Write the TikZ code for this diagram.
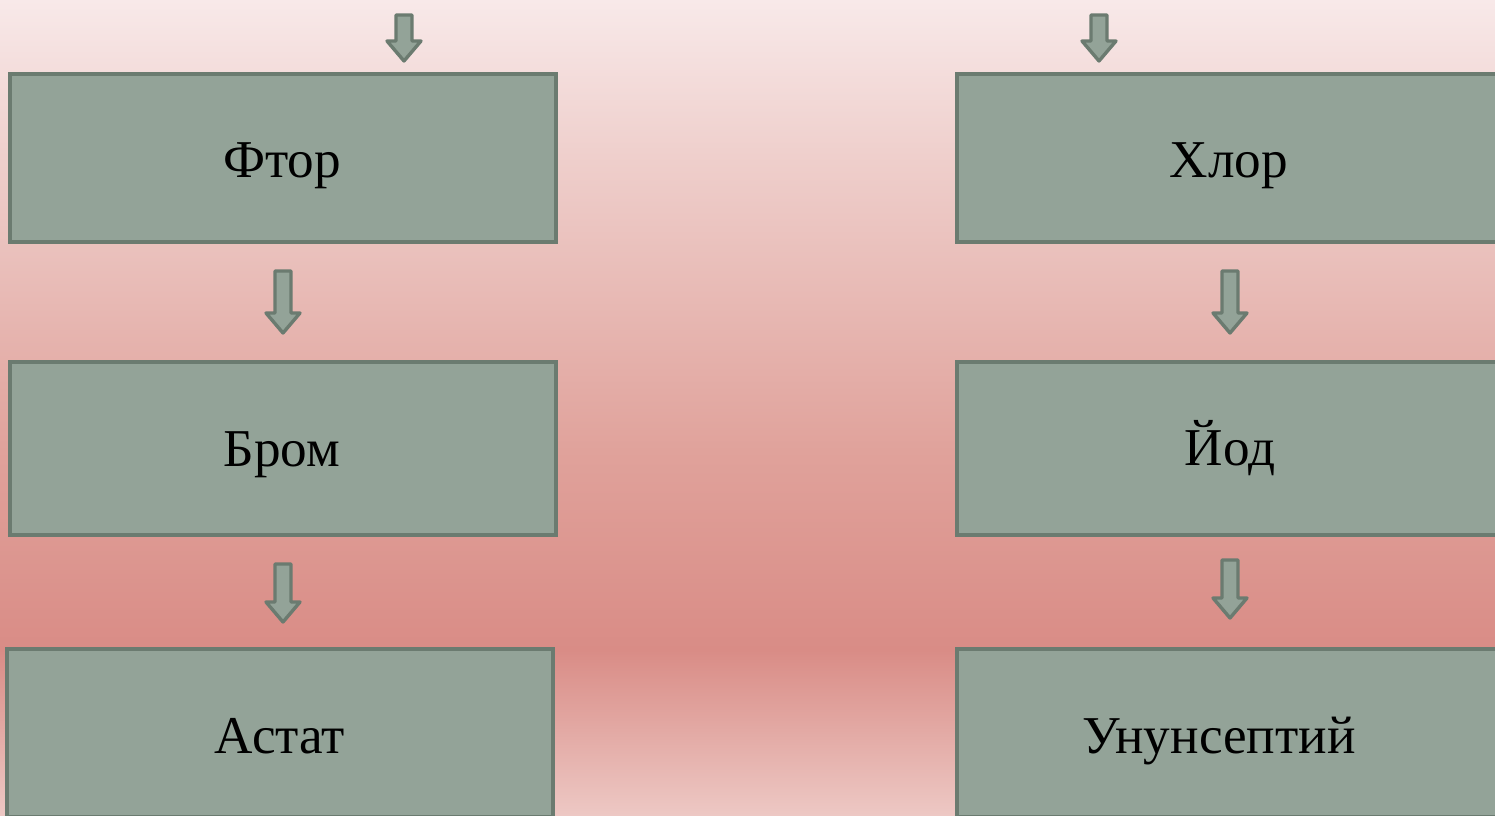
\documentclass[tikz,border=0pt]{standalone}
\usepackage{fontspec}
\setmainfont{Liberation Serif}
\definecolor{bgA}{HTML}{F8E9E9}
\definecolor{bgB}{HTML}{EFD0CD}
\definecolor{bgC}{HTML}{E0A29B}
\definecolor{bgD}{HTML}{D98C86}
\definecolor{bgE}{HTML}{EDC8C4}
\definecolor{boxfill}{HTML}{93A398}
\definecolor{boxline}{HTML}{6B7B70}
\newcommand\blockarrow[3]{%
  \draw[blockarr] (#1-8,#2) -- (#1+8,#2) -- (#1+8,#3-20) -- (#1+17,#3-20) -- (#1,#3) -- (#1-17,#3-20) -- (#1-8,#3-20) -- cycle;}
\tikzset{
  box/.style={draw=boxline, fill=boxfill, line width=2pt, rectangle, inner sep=0pt},
  txt/.style={font=\fontsize{26.6}{32}\selectfont, text=black, inner sep=0pt, anchor=base},
  blockarr/.style={draw=boxline, fill=boxfill, line width=1.7pt, line join=round},
}
\begin{document}
\begin{tikzpicture}[x=0.5pt, y=-0.5pt]
\useasboundingbox (0,0) rectangle (1495,815);
\clip (0,0) rectangle (1495,815);
% background
\shade[top color=bgA, bottom color=bgB] (0,0) rectangle (1495,150.5);
\shade[top color=bgB, bottom color=bgC] (0,150) rectangle (1495,450.5);
\shade[top color=bgC, bottom color=bgD] (0,450) rectangle (1495,650.5);
\shade[top color=bgD, bottom color=bgE] (0,650) rectangle (1495,815);
% boxes
\node[box, minimum width=273pt, minimum height=84pt] (ftor) at (283,158) {};
\node[box, minimum width=273pt, minimum height=86.5pt] (brom) at (283,448.5) {};
\node[box, minimum width=273pt, minimum height=84pt] (astat) at (280,733) {};
\node[box, minimum width=273pt, minimum height=84pt] (hlor) at (1230,158) {};
\node[box, minimum width=273pt, minimum height=86.5pt] (iod) at (1230,448.5) {};
\node[box, minimum width=273pt, minimum height=84pt] (unun) at (1230,733) {};
% labels
\node[txt] (ftort) at (282,177) {Фтор};
\node[txt] (bromt) at (282,466) {Бром};
\node[txt] (astatt) at (280,753) {Астат};
\node[txt] (hlort) at (1229,177) {Хлор};
\node[txt] (iodt) at (1230,465) {Йод};
\node[txt] (ununt) at (1219,753) {Унунсептий};
% arrows
\blockarrow{404}{15}{61}
\blockarrow{1099}{15}{61}
\blockarrow{283}{271}{333}
\blockarrow{1230}{271}{333}
\blockarrow{283}{564}{622}
\blockarrow{1230}{560}{618}
\end{tikzpicture}
\end{document}
